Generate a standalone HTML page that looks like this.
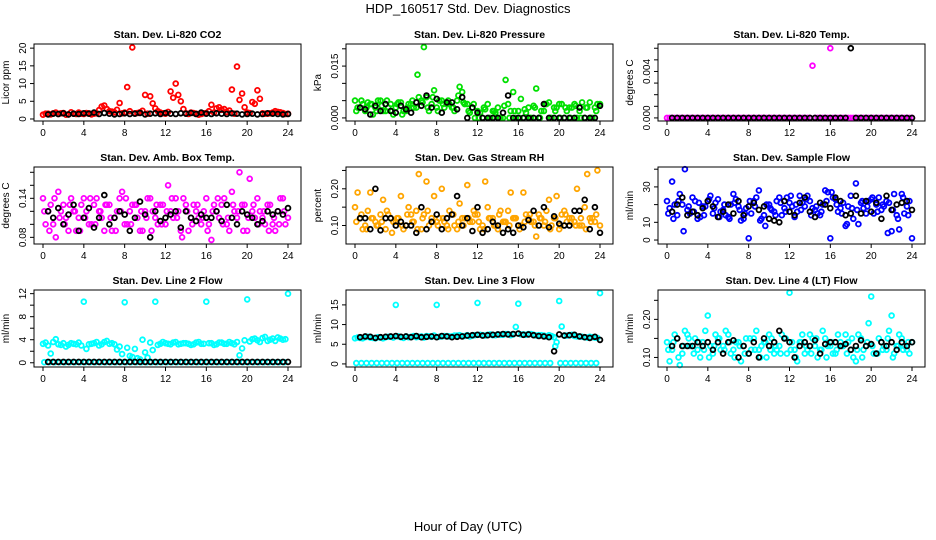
<!DOCTYPE html>
<html><head><meta charset="utf-8">
<style>
html,body{margin:0;padding:0;background:#fff;}
svg{display:block;font-family:"Liberation Sans",sans-serif;}
</style></head>
<body>
<svg id="chart" width="936" height="540" viewBox="0 0 936 540" xmlns="http://www.w3.org/2000/svg">
<text x="468" y="13" text-anchor="middle" font-size="13">HDP_160517  Std. Dev. Diagnostics</text>
<text x="468" y="531" text-anchor="middle" font-size="13">Hour of Day (UTC)</text>
</svg>
<script>
// ---- data (x for series A = 0,0.5,...; B = 0.25,0.75,...; C = 0.125,...; black = 0.5,1.0,...)
const co2A=[1.2,1.5,1.6,1.4,1.7,1.3,1.5,1.8,1.4,1.6,1.5,2.5,3.8,2.2,1.9,4.5,1.8,2.2,1.6,1.9,6.8,6.4,3.0,1.8,1.5,7.8,10.0,5.0,1.6,1.8,1.5,1.4,1.7,4.0,3.0,2.6,2.0,8.3,14.8,7.2,1.8,4.8,8.1,1.6,1.5,1.8,2.0,1.7,1.5];
const co2B=[1.5,1.3,1.8,1.6,1.2,1.9,1.4,1.5,1.7,1.3,1.6,3.5,2.8,2.1,2.6,1.6,9.0,20.2,1.7,2.3,1.5,4.4,2.2,1.6,2.0,6.0,6.8,2.8,1.4,1.7,1.2,1.6,2.2,1.8,3.3,2.8,2.4,1.5,5.4,3.3,1.7,4.3,5.7,1.5,1.6,2.2,1.9,1.4];
const co2K=[1.3,1.5,1.4,1.6,1.3,1.5,1.4,1.6,1.5,1.8,1.4,1.7,1.5,1.3,1.4,1.6,1.4,1.5,1.7,1.3,1.5,1.6,1.4,1.7,1.5,1.4,1.6,1.5,1.7,1.4,1.8,1.5,1.4,1.6,1.5,1.4,1.6,1.5,1.3,1.4,1.5,1.3,1.4,1.6,1.5,1.4,1.3,1.4];
const prA=[0.005,0.003,0.002,0.004,0.003,0.005,0.002,0.004,0.003,0.0045,0.002,0.004,0.003,0.005,0.006,0.004,0.003,0.005,0.004,0.003,0.005,0.0075,0.004,0.003,0.002,0.000,0.004,0.002,0.003,0.000,0.004,0.0075,0.002,0.000,0.003,0.0035,0.000,0.002,0.0045,0.003,0.004,0.000,0.003,0.004,0.002,0.000,0.0045,0.003,0.004];
const prB=[0.003,0.004,0.0045,0.001,0.005,0.002,0.003,0.001,0.0045,0.002,0.004,0.003,0.006,0.0205,0.002,0.008,0.005,0.003,0.004,0.002,0.009,0.004,0.0015,0.000,0.0015,0.0025,0.000,0.0015,0.000,0.011,0.002,0.000,0.0055,0.0015,0.000,0.0085,0.002,0.004,0.000,0.003,0.004,0.002,0.003,0.000,0.0045,0.003,0.000,0.004];
const prC=[0.002,0.005,0.003,0.004,0.002,0.0035,0.005,0.002,0.004,0.001,0.003,0.005,0.0125,0.0045,0.003,0.006,0.002,0.004,0.005,0.003,0.0065,0.0045,0.002,0.004,0,0.003,0,0.002,0,0.0035,0,0.002,0,0.0025,0,0.003,0,0.004,0,0.002,0,0.003,0,0.0035,0,0.003,0,0.002];
const prK=[0.003,0.0025,0.001,0.0035,0.002,0.004,0.002,0.0015,0.0035,0.0025,0.0015,0.0045,0.0035,0.0065,0.003,0.0055,0.0015,0.0045,0.0045,0.0025,0.006,0,0.003,0.0015,0,0,0,0,0.0015,0.0065,0,0,0,0,0,0,0.004,0,0,0,0,0,0,0.003,0,0,0,0.0035];
const tpA=[0,0,0,0,0,0,0,0,0,0,0,0,0,0,0,0,0,0,0,0,0,0,0,0,0,0,0,0,0,0,0,0,0.006,0,0,0,0,0,0,0,0,0,0,0,0,0,0,0,0];
const tpB=[0,0,0,0,0,0,0,0,0,0,0,0,0,0,0,0,0,0,0,0,0,0,0,0,0,0,0,0,0.0045,0,0,0,0,0,0,0,0,0,0,0,0,0,0,0,0,0,0,0];
const tpK=[0,0,0,0,0,0,0,0,0,0,0,0,0,0,0,0,0,0,0,0,0,0,0,0,0,0,0,0,0,0,0,0,0,0,0,0.006,0,0,0,0,0,0,0,0,0,0,0,0];
const abA=[.14,.12,.10,.15,.13,.09,.12,.11,.14,.10,.13,.12,.09,.13,.11,.14,.10,.12,.13,.09,.12,.14,.11,.13,.10,.12,.14,.09,.13,.11,.12,.10,.14,.076,.12,.13,.10,.15,.11,.13,.09,.12,.14,.11,.13,.10,.12,.14,.11];
const abB=[.10,.13,.08,.12,.11,.14,.09,.13,.12,.10,.14,.11,.13,.09,.12,.15,.10,.13,.11,.09,.14,.12,.10,.13,.16,.11,.12,.14,.09,.13,.11,.12,.10,.13,.11,.14,.09,.12,.18,.13,.17,.11,.12,.10,.13,.09,.14,.10];
const abC=[.12,.09,.14,.11,.10,.13,.12,.09,.11,.14,.10,.12,.13,.11,.09,.12,.14,.10,.13,.12,.11,.09,.13,.10,.12,.14,.11,.08,.12,.10,.13,.11,.09,.12,.14,.10,.11,.13,.12,.09,.11,.13,.10,.12,.09,.11,.10,.12];
const abK=[.12,.11,.125,.10,.115,.13,.09,.11,.125,.095,.11,.145,.10,.11,.12,.115,.09,.11,.135,.115,.08,.12,.105,.11,.115,.12,.095,.12,.11,.105,.115,.11,.11,.12,.105,.13,.11,.10,.12,.115,.11,.10,.105,.12,.115,.12,.115,.125];
const rhA=[.15,.12,.10,.19,.11,.13,.09,.12,.11,.18,.10,.13,.14,.09,.22,.12,.11,.20,.10,.13,.09,.12,.21,.11,.13,.10,.15,.12,.09,.11,.14,.12,.10,.19,.12,.11,.13,.10,.17,.12,.09,.14,.12,.11,.10,.15,.12,.11,.10];
const rhB=[.19,.09,.14,.12,.10,.17,.13,.11,.12,.09,.15,.11,.24,.13,.10,.18,.12,.11,.14,.10,.16,.12,.11,.13,.09,.22,.12,.10,.14,.11,.19,.12,.10,.13,.11,.07,.12,.14,.10,.18,.13,.11,.12,.20,.10,.24,.12,.25];
const rhC=[.11,.13,.09,.12,.10,.11,.14,.08,.12,.10,.13,.11,.09,.12,.14,.11,.10,.12,.09,.13,.11,.10,.12,.14,.11,.09,.12,.10,.13,.11,.10,.12,.09,.11,.13,.10,.12,.11,.09,.12,.10,.13,.11,.10,.12,.09,.11,.13];
const rhK=[.12,.12,.09,.20,.087,.12,.12,.10,.11,.10,.10,.08,.15,.09,.11,.13,.09,.12,.13,.18,.10,.12,.085,.15,.08,.09,.11,.10,.08,.09,.08,.10,.095,.115,.14,.10,.15,.095,.125,.105,.10,.10,.14,.14,.17,.09,.15,.08];
const sfA=[22,33,14,20,17,24,12,19,22,15,23,17,13,26,19,12,1,22,28,14,20,16,24,18,21,13,25,19,22,17,14,28,1,23,18,8,25,32,21,15,23,20,17,22,5,14,26,19,1];
const sfB=[18,20,26,40,15,22,13,19,25,21,16,14,20,23,11,18,15,24,12,20,17,22,14,24,19,16,21,25,18,15,20,27,24,16,21,19,12,9,18,22,15,24,19,21,26,6,15,22];
const sfC=[15,12,22,5,19,16,21,14,23,18,13,20,12,21,17,15,22,19,11,8,18,14,21,16,25,20,17,23,14,19,16,22,27,20,15,9,18,17,22,19,24,16,20,4,17,12,24,14];
const sfK=[16,20,24,14,16,14,18,22,19,13,16,20,15,22,14,19,21,17,19,12,11,10,22,16,14,21,24,16,13,21,20,18,24,22,14,15,25,15,22,16,21,12,25,17,20,21,22,17];
const l2A=[3.3,3.0,3.6,3.2,3.4,3.1,3.3,3.5,10.6,3.2,3.4,3.0,3.6,3.3,3.2,2.8,10.5,1.2,2.4,0.6,1.8,3.5,10.6,3.3,3.4,3.2,3.6,3.3,3.4,3.1,3.5,3.3,10.6,3.4,3.2,3.5,3.3,3.4,3.6,2.5,11.0,4.1,3.9,4.3,3.8,4.2,4.4,4.0,12.0];
const l2B=[3.5,1.6,4.1,3.1,2.8,3.4,3.2,3.0,2.4,3.3,3.6,3.2,3.8,3.4,2.3,1.5,2.6,1.0,0.8,4.0,0.9,2.2,3.1,3.6,3.3,3.5,3.2,3.4,3.3,3.2,3.6,3.3,3.4,3.1,3.5,3.3,3.6,3.2,1.3,3.9,3.7,4.2,3.6,4.5,4.0,3.8,4.2,4.1];
const l2C=[0.1,0.1,0.1,0.1,0.1,0.1,0.1,0.1,0.1,0.1,0.1,0.1,0.1,0.1,0.1,0.1,0.1,0.1,0.1,0.1,0.1,0.1,0.1,0.1,0.1,0.1,0.1,0.1,0.1,0.1,0.1,0.1,0.1,0.1,0.1,0.1,0.1,0.1,0.1,0.1,0.1,0.1,0.1,0.1,0.1,0.1,0.1,0.1];
const l2K=[0.15,0.15,0.15,0.15,0.15,0.15,0.15,0.15,0.15,0.15,0.15,0.15,0.15,0.15,0.15,0.15,0.15,0.15,0.15,0.15,0.15,0.15,0.15,0.15,0.15,0.15,0.15,0.15,0.15,0.15,0.15,0.15,0.15,0.15,0.15,0.15,0.15,0.15,0.15,0.15,0.15,0.15,0.15,0.15,0.15,0.15,0.15,0.15];
const l3A=[6.5,6.6,6.8,6.7,6.5,6.7,6.8,6.9,15.0,6.8,7.0,6.9,6.8,7.0,7.1,6.9,15.0,7.0,7.1,7.0,7.2,7.1,7.3,7.2,15.5,7.3,7.4,7.3,7.5,7.4,7.6,7.5,15.3,7.5,7.6,7.4,7.3,7.2,7.3,6.8,16.0,7.2,7.3,7.1,7.0,6.8,6.9,6.7,18.0];
const l3B=[6.7,6.5,6.9,6.6,6.8,6.5,6.9,6.7,7.0,6.6,6.8,7.1,6.9,6.7,7.0,7.2,6.9,7.1,7.0,7.2,7.3,7.1,7.0,7.3,7.4,7.2,7.5,7.3,7.4,7.6,7.3,9.4,7.5,7.4,7.6,7.2,7.3,7.0,7.1,5.5,9.5,7.2,7.4,7.0,6.9,6.7,6.8,6.6];
const l3C=[0.2,0.2,0.2,0.2,0.2,0.2,0.2,0.2,0.2,0.2,0.2,0.2,0.2,0.2,0.2,0.2,0.2,0.2,0.2,0.2,0.2,0.2,0.2,0.2,0.2,0.2,0.2,0.2,0.2,0.2,0.2,0.2,0.2,0.2,0.2,0.2,0.2,0.2,0.2,4.5,0.2,0.2,0.2,0.2,0.2,0.2,0.2,0.2];
const l3K=[6.8,7.0,6.9,6.6,6.8,6.9,7.0,7.1,6.9,7.0,6.8,7.1,6.8,6.9,7.0,6.8,7.1,7.0,6.8,6.9,7.0,7.2,7.3,7.4,7.2,7.3,7.4,7.5,7.6,7.5,7.6,7.7,7.4,7.5,7.3,7.1,7.0,6.8,3.2,7.5,7.2,7.3,7.4,7.0,6.8,6.6,6.9,6.1];
const l4A=[.14,.12,.15,.11,.16,.13,.12,.14,.21,.11,.15,.13,.16,.12,.14,.13,.11,.15,.12,.14,.16,.11,.13,.15,.27,.12,.14,.11,.16,.13,.12,.15,.13,.11,.14,.16,.12,.09,.15,.13,.26,.11,.14,.12,.21,.13,.15,.12,.14];
const l4B=[.09,.16,.08,.17,.13,.15,.10,.17,.13,.16,.12,.17,.11,.14,.09,.15,.12,.17,.13,.10,.15,.12,.16,.11,.14,.09,.16,.12,.15,.10,.17,.13,.11,.16,.13,.14,.10,.16,.12,.19,.11,.15,.13,.17,.11,.16,.13,.11];
const l4C=[.12,.14,.10,.13,.15,.11,.14,.12,.10,.13,.15,.12,.14,.10,.13,.11,.15,.12,.10,.14,.12,.13,.11,.15,.12,.10,.14,.13,.11,.15,.12,.10,.14,.12,.13,.11,.15,.12,.10,.14,.13,.11,.12,.15,.10,.13,.12,.14];
const l4K=[.13,.15,.13,.13,.13,.14,.13,.14,.12,.14,.11,.14,.145,.10,.13,.11,.14,.10,.15,.13,.14,.17,.15,.14,.10,.13,.14,.13,.145,.11,.135,.14,.14,.13,.135,.12,.13,.145,.13,.135,.11,.14,.13,.14,.12,.14,.13,.14];
const xTicks=[0,4,8,12,16,20,24];

// ---- panel layout
const COLS=[34,346,658], ROWS=[44,167,290], PW=267, PH=77;
const panels=[
 {name:'co2',title:'Stan. Dev. Li-820 CO2',ylab:'Licor ppm',col:'#ff0000',ylim:[0.3,20.3],ticks:[0,5,10,15,20],labels:['0','5','10','15','20'],A:co2A,B:co2B,C:null,K:co2K},
 {name:'pressure',title:'Stan. Dev. Li-820 Pressure',ylab:'kPa',col:'#00e000',ylim:[0,0.0205],ticks:[0,0.005,0.01,0.015,0.02],labels:['0.000','','','0.015',''],A:prA,B:prB,C:prC,K:prK},
 {name:'li820-temp',title:'Stan. Dev. Li-820 Temp.',ylab:'degrees C',col:'#ff00ff',ylim:[0,0.0061],ticks:[0,0.001,0.002,0.003,0.004,0.005,0.006],labels:['0.000','','','','0.004','',''],A:tpA,B:tpB,C:null,K:tpK},
 {name:'amb-box-temp',title:'Stan. Dev. Amb. Box Temp.',ylab:'degrees C',col:'#ff00ff',ylim:[0.0745,0.1834],ticks:[0.08,0.10,0.12,0.14,0.16,0.18],labels:['0.08','','','0.14','',''],A:abA,B:abB,C:abC,K:abK},
 {name:'gas-stream-rh',title:'Stan. Dev. Gas Stream RH',ylab:'percent',col:'#ffa500',ylim:[0.058,0.251],ticks:[0.10,0.15,0.20,0.25],labels:['0.10','','0.20',''],A:rhA,B:rhB,C:rhC,K:rhK},
 {name:'sample-flow',title:'Stan. Dev. Sample Flow',ylab:'ml/min',col:'#0000ff',ylim:[-0.5,39.5],ticks:[0,10,20,30,40],labels:['0','10','','30',''],A:sfA,B:sfB,C:sfC,K:sfK},
 {name:'line2-flow',title:'Stan. Dev. Line 2 Flow',ylab:'ml/min',col:'#00ffff',ylim:[-0.2,12.1],ticks:[0,2,4,6,8,10,12],labels:['0','','4','','8','','12'],A:l2A,B:l2B,C:l2C,K:l2K},
 {name:'line3-flow',title:'Stan. Dev. Line 3 Flow',ylab:'ml/min',col:'#00ffff',ylim:[0,18],ticks:[0,5,10,15],labels:['0','5','10','15'],A:l3A,B:l3B,C:l3C,K:l3K},
 {name:'line4-flow',title:'Stan. Dev. Line 4 (LT) Flow',ylab:'ml/min',col:'#00ffff',ylim:[0.083,0.269],ticks:[0.10,0.15,0.20,0.25],labels:['0.10','','0.20',''],A:l4A,B:l4B,C:l4C,K:l4K}
];
const NS='http://www.w3.org/2000/svg';
const svg=document.getElementById('chart');
function mk(tag,attrs,parent){const e=document.createElementNS(NS,tag);for(const k in attrs)e.setAttribute(k,attrs[k]);parent.appendChild(e);return e;}

panels.forEach((p,i)=>{
 const L=COLS[i%3], T=ROWS[Math.floor(i/3)];
 const g=mk('g',{},svg);
 
 
 const xs=v=>L+9+v/24*245;
 const pad=PH*0.04, span=PH-2*pad;
 const ys=v=>T+PH-pad-(v-p.ylim[0])/(p.ylim[1]-p.ylim[0])*span;
 const t=mk('text',{x:L+PW/2,y:T-6,'text-anchor':'middle','font-size':'10.5','font-weight':'bold'},g);
 t.textContent=p.title;
 
 
 const cx=L-25, cy=T+PH/2;
 const yl=mk('text',{x:cx,y:cy,'text-anchor':'middle','font-size':'10',transform:`rotate(-90 ${cx} ${cy})`},g);
 yl.textContent=p.ylab;
 
 
 const drawSeries=(arr,off,color,nm)=>{
  if(!arr)return;
  const sg=mk('g',{fill:'none',stroke:color,'stroke-width':'1.8'},g);
  
  
  arr.forEach((v,j)=>{
   const c=mk('circle',{cx:xs(off+j*0.5).toFixed(1),cy:ys(v).toFixed(1),r:'2.4'},sg);
   
   
  });
 };
 drawSeries(p.C,0.125,p.col,'c');
 drawSeries(p.A,0,p.col,'a');
 drawSeries(p.B,0.25,p.col,'b');
 drawSeries(p.K,0.5,'#000','black');
 const box=mk('rect',{x:L,y:T,width:PW,height:PH,fill:'none',stroke:'#000','stroke-width':'1'},g);
 
 
 const xa=mk('g',{stroke:'#000','stroke-width':'1'},g);
 
 
 mk('line',{x1:xs(0),x2:xs(24),y1:T+PH,y2:T+PH},xa);
 xTicks.forEach(v=>{
  mk('line',{x1:xs(v),x2:xs(v),y1:T+PH,y2:T+PH+4},xa);
  const tx=mk('text',{x:xs(v),y:T+PH+15,'text-anchor':'middle','font-size':'10',stroke:'none',fill:'#000'},xa);
  tx.textContent=v;
  
  
 });
 const ya=mk('g',{stroke:'#000','stroke-width':'1'},g);
 
 
 mk('line',{x1:L,x2:L,y1:ys(p.ticks[0]),y2:ys(p.ticks[p.ticks.length-1])},ya);
 p.ticks.forEach((v,k)=>{
  const y=ys(v);
  mk('line',{x1:L-4,x2:L,y1:y,y2:y},ya);
  if(p.labels[k]){
   const lx=L-8;
   const tx=mk('text',{x:lx,y:y,'text-anchor':'middle','font-size':'10',stroke:'none',fill:'#000',transform:`rotate(-90 ${lx} ${y})`},ya);
   tx.textContent=p.labels[k];
   
   
  }
 });
});
</script>
</body></html>
